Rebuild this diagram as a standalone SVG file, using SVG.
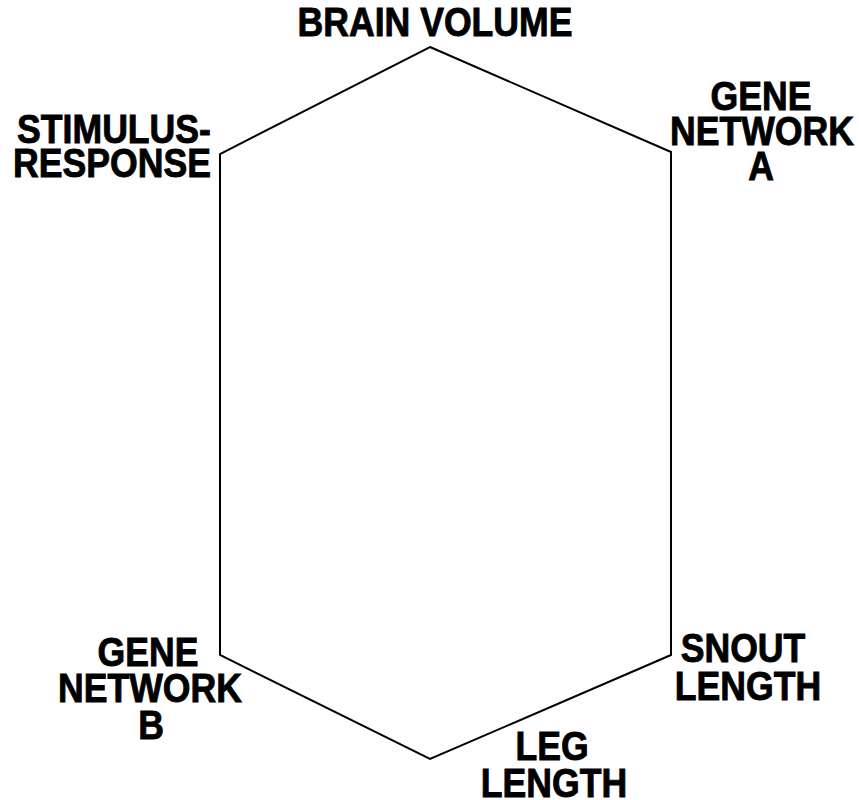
<svg xmlns="http://www.w3.org/2000/svg" width="859" height="800" viewBox="0 0 859 800">
<style>
text{font-family:"Liberation Sans",Arial,sans-serif;font-weight:bold;font-size:40px;fill:#000;stroke:#000;stroke-width:0.9;text-anchor:middle}
.edge{fill:none;stroke:#000;stroke-width:2;stroke-linejoin:miter}
</style>
<rect width="859" height="800" fill="#fff"/>
<g id="connectors">
<polygon class="edge" points="430,47 671,152 671,655 430,759 220,655 220,154"/>
</g>
<g id="brain-volume"><text transform="matrix(0.89 0 0 1 435 36)">BRAIN VOLUME</text></g>
<g id="gene-network-a"><text transform="matrix(0.89 0 0 1 761 110)">GENE</text><text transform="matrix(0.89 0 0 1 762 145)">NETWORK</text><text transform="matrix(0.89 0 0 1 761 180)">A</text></g>
<g id="stimulus-response"><text transform="matrix(0.89 0 0 1 114 143)">STIMULUS-</text><text transform="matrix(0.89 0 0 1 112 177)">RESPONSE</text></g>
<g id="gene-network-b"><text transform="matrix(0.89 0 0 1 148 666)">GENE</text><text transform="matrix(0.89 0 0 1 150 702)">NETWORK</text><text transform="matrix(0.89 0 0 1 151 739)">B</text></g>
<g id="snout-length"><text transform="matrix(0.89 0 0 1 743 662)">SNOUT</text><text transform="matrix(0.89 0 0 1 748 700)">LENGTH</text></g>
<g id="leg-length"><text transform="matrix(0.89 0 0 1 552 760)">LEG</text><text transform="matrix(0.89 0 0 1 554 797)">LENGTH</text></g>
</svg>
